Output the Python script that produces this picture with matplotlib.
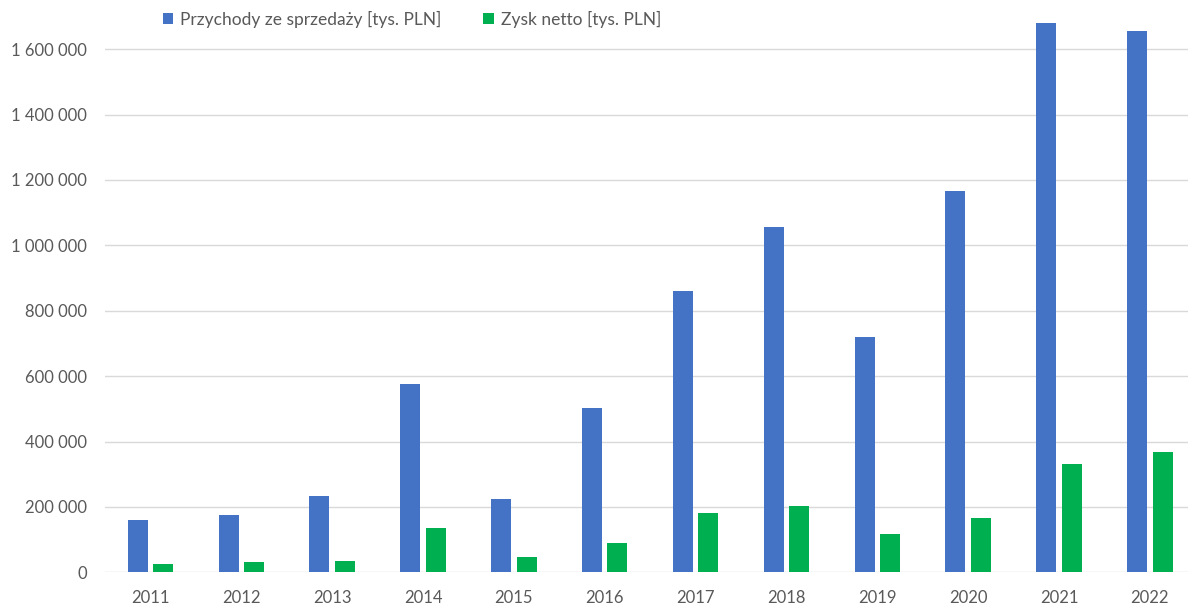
import matplotlib
matplotlib.use("Agg")
import matplotlib.pyplot as plt
import numpy as np
from matplotlib.ticker import FuncFormatter, MultipleLocator

# Dane roczne [tys. PLN]
lata = ["2011", "2012", "2013", "2014", "2015", "2016",
        "2017", "2018", "2019", "2020", "2021", "2022"]
przychody = [159000, 174000, 234000, 575000, 224000, 502000,
             861000, 1055000, 719000, 1167000, 1679000, 1656000]
zysk_netto = [24000, 30000, 34000, 137000, 47500, 91000,
              180000, 204000, 116000, 167000, 330000, 367000]

etykieta_przychody = "Przychody ze sprzedaży [tys. PLN]"
etykieta_zysk = "Zysk netto [tys. PLN]"

plt.rcParams['font.family'] = ['Lato', 'DejaVu Sans']
kolor_tekstu = "#595959"

fig = plt.figure(figsize=(11.88, 6.07), dpi=100)
ax = fig.add_axes([105 / 1188, (607 - 572.3) / 607, (1188 - 105) / 1188, (572.3 - 3) / 607])

x = np.arange(len(lata))
szer = 0.22
ax.bar(x - 0.14, przychody, szer, color="#4472C4", label=etykieta_przychody, zorder=2)
ax.bar(x + 0.14, zysk_netto, szer, color="#00B050", label=etykieta_zysk, zorder=2)

ax.set_xlim(-0.5, 11.42)
ax.set_ylim(0, 1.741e6)
ax.yaxis.set_major_locator(MultipleLocator(200000))
ax.yaxis.set_major_formatter(FuncFormatter(lambda v, p: f"{v:,.0f}".replace(",", " ")))
ax.set_xticks(x)
ax.set_xticklabels(lata)

ax.grid(axis="y", color="#D9D9D9", linewidth=1.0, zorder=0)
ax.set_axisbelow(True)
for s in ax.spines.values():
    s.set_visible(False)
ax.tick_params(axis="both", length=0, labelsize=12, labelcolor=kolor_tekstu)
ax.tick_params(axis="y", pad=13)
ax.tick_params(axis="x", pad=13)

fig.legend(loc="center", bbox_to_anchor=(412 / 1188, 1 - 19 / 607), ncol=2,
           frameon=False, fontsize=12.5, labelcolor=kolor_tekstu,
           handlelength=0.6, handleheight=0.6, handletextpad=0.4,
           columnspacing=2.4)

fig.savefig("out.png", dpi=100)
